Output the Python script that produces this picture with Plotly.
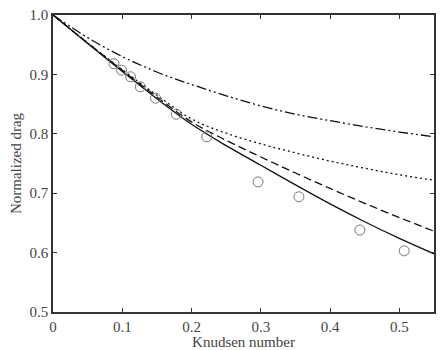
import plotly.graph_objects as go

kn = [0.0, 0.05, 0.1, 0.15, 0.2, 0.25, 0.3, 0.35, 0.4, 0.45, 0.5, 0.55]
solid = [1.0, 0.952, 0.905, 0.859, 0.816, 0.780, 0.747, 0.714, 0.682, 0.652, 0.624, 0.598]
dashed = [1.0, 0.953, 0.907, 0.862, 0.820, 0.789, 0.761, 0.734, 0.708, 0.683, 0.659, 0.636]
dotted = [1.0, 0.953, 0.908, 0.865, 0.825, 0.801, 0.783, 0.768, 0.754, 0.742, 0.731, 0.722]
dashdot = [1.0, 0.962, 0.930, 0.904, 0.883, 0.864, 0.847, 0.833, 0.822, 0.812, 0.803, 0.795]

exp_kn = [0.088, 0.099, 0.112, 0.126, 0.148, 0.178, 0.222, 0.296, 0.355, 0.443, 0.507]
exp_drag = [0.918, 0.907, 0.896, 0.879, 0.860, 0.833, 0.795, 0.719, 0.694, 0.638, 0.603]

x_ticks = [0, 0.1, 0.2, 0.3, 0.4, 0.5]
x_labels = ["0", "0.1", "0.2", "0.3", "0.4", "0.5"]
y_ticks = [0.5, 0.6, 0.7, 0.8, 0.9, 1.0]
y_labels = ["0.5", "0.6", "0.7", "0.8", "0.9", "1.0"]

fig = go.Figure()
styles = [
    (dashdot, "10px,3px,2px,3px,2px,3px"),
    (dotted, "2px,3px"),
    (dashed, "8px,4px"),
    (solid, "solid"),
]
for ys, dash in styles:
    fig.add_trace(go.Scatter(x=kn, y=ys, mode="lines", line=dict(color="#111", width=1.3, dash=dash, shape="spline"),
                             showlegend=False, hoverinfo="skip"))
fig.add_trace(go.Scatter(x=exp_kn, y=exp_drag, mode="markers",
                         marker=dict(symbol="circle-open", size=10, color="#777", line=dict(width=1)),
                         showlegend=False))

font = dict(family="Liberation Serif, Times New Roman, serif", size=15, color="#444")
fig.update_layout(
    width=441, height=350,
    margin=dict(l=53, r=7, t=15, b=38),
    paper_bgcolor="white", plot_bgcolor="white",
    font=font,
    xaxis=dict(range=[0, 0.55], tickvals=x_ticks, ticktext=x_labels, ticks="inside", ticklen=4,
               tickcolor="#333", showline=True, linecolor="#333", linewidth=1.5, mirror="ticks",
               showgrid=False, zeroline=False, tickfont=dict(size=15), automargin=False,
               title=dict(text="Knudsen number", font=dict(size=15), standoff=1)),
    yaxis=dict(range=[0.5, 1.0], tickvals=y_ticks, ticktext=y_labels, ticks="inside", ticklen=4,
               tickcolor="#333", showline=True, linecolor="#333", linewidth=1.5, mirror="ticks",
               showgrid=False, zeroline=False, tickfont=dict(size=15), automargin=False,
               title=dict(text="Normalized drag", font=dict(size=15), standoff=4)),
)
fig.write_html("out.html")
